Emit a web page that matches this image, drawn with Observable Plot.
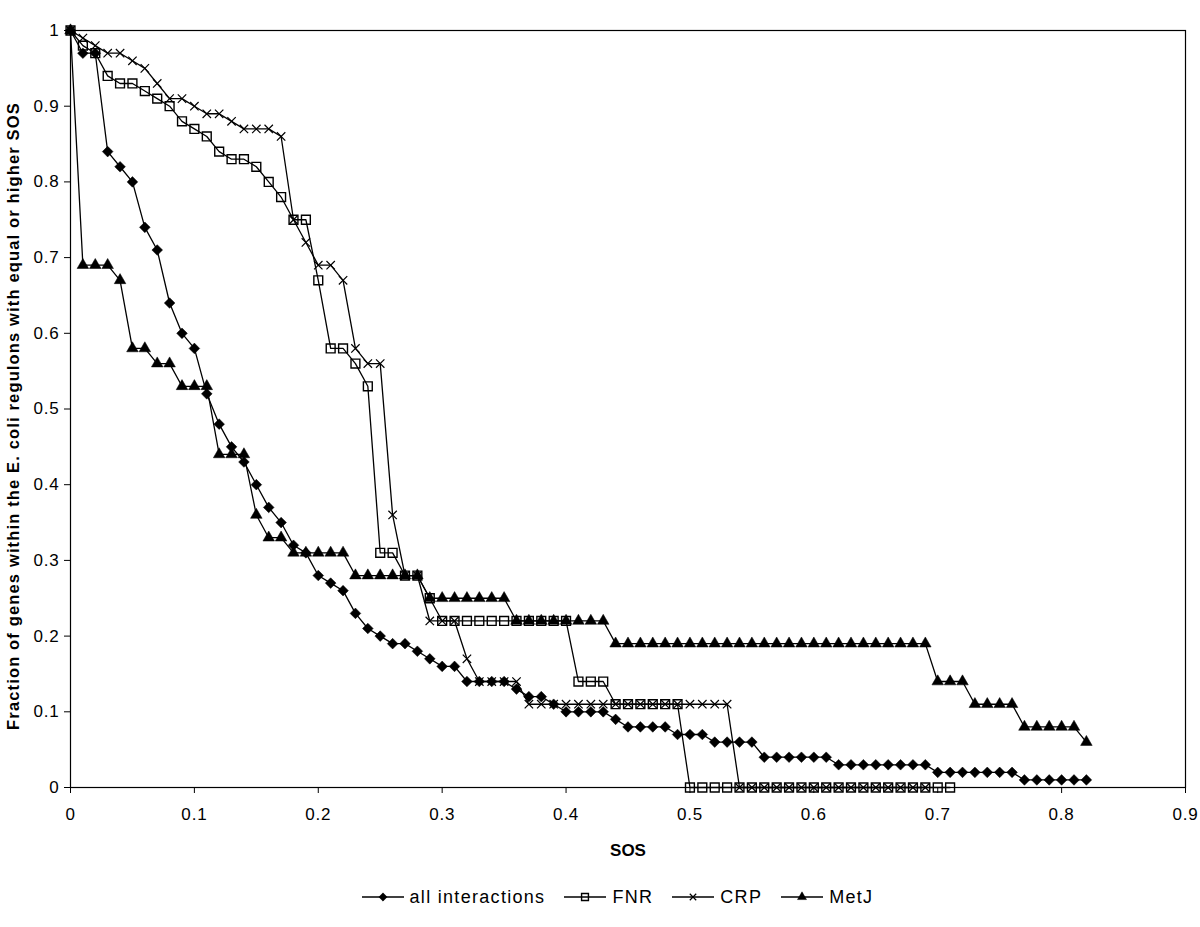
<!DOCTYPE html>
<html>
<head>
<meta charset="utf-8">
<script src="https://cdn.jsdelivr.net/npm/d3@7"></script>
<script src="https://cdn.jsdelivr.net/npm/@observablehq/plot@0.6"></script>
<style>
  html, body { margin: 0; padding: 0; background: white; }
  #chart { width: 1200px; }
  #legend { display: flex; justify-content: center; align-items: center; height: 54px;
            font-family: "Liberation Sans", Arial, sans-serif; font-size: 18px; letter-spacing: 1.3px; color: black;
            padding-left: 52px; box-sizing: border-box; width: 1200px; }
  .item { display: flex; align-items: center; margin-right: 18px; }
  .item svg { margin-right: 5px; }
</style>
</head>
<body>
<div id="chart"></div>
<div id="legend"></div>
<script>
const sos = [0,0.01,0.02,0.03,0.04,0.05,0.06,0.07,0.08,0.09,
  0.1,0.11,0.12,0.13,0.14,0.15,0.16,0.17,0.18,0.19,
  0.2,0.21,0.22,0.23,0.24,0.25,0.26,0.27,0.28,0.29,
  0.3,0.31,0.32,0.33,0.34,0.35,0.36,0.37,0.38,0.39,
  0.4,0.41,0.42,0.43,0.44,0.45,0.46,0.47,0.48,0.49,
  0.5,0.51,0.52,0.53,0.54,0.55,0.56,0.57,0.58,0.59,
  0.6,0.61,0.62,0.63,0.64,0.65,0.66,0.67,0.68,0.69,
  0.7,0.71,0.72,0.73,0.74,0.75,0.76,0.77,0.78,0.79,
  0.8,0.81,0.82];

const allInteractions = [1,0.97,0.97,0.84,0.82,0.80,0.74,0.71,0.64,0.60,
  0.58,0.52,0.48,0.45,0.43,0.40,0.37,0.35,0.32,0.31,
  0.28,0.27,0.26,0.23,0.21,0.20,0.19,0.19,0.18,0.17,
  0.16,0.16,0.14,0.14,0.14,0.14,0.13,0.12,0.12,0.11,
  0.10,0.10,0.10,0.10,0.09,0.08,0.08,0.08,0.08,0.07,
  0.07,0.07,0.06,0.06,0.06,0.06,0.04,0.04,0.04,0.04,
  0.04,0.04,0.03,0.03,0.03,0.03,0.03,0.03,0.03,0.03,
  0.02,0.02,0.02,0.02,0.02,0.02,0.02,0.01,0.01,0.01,
  0.01,0.01,0.01];

const fnr = [1,0.98,0.97,0.94,0.93,0.93,0.92,0.91,0.90,0.88,
  0.87,0.86,0.84,0.83,0.83,0.82,0.80,0.78,0.75,0.75,
  0.67,0.58,0.58,0.56,0.53,0.31,0.31,0.28,0.28,0.25,
  0.22,0.22,0.22,0.22,0.22,0.22,0.22,0.22,0.22,0.22,
  0.22,0.14,0.14,0.14,0.11,0.11,0.11,0.11,0.11,0.11,
  0,0,0,0,0,0,0,0,0,0,
  0,0,0,0,0,0,0,0,0,0,
  0,0];

const crp = [1,0.99,0.98,0.97,0.97,0.96,0.95,0.93,0.91,0.91,
  0.90,0.89,0.89,0.88,0.87,0.87,0.87,0.86,0.75,0.72,
  0.69,0.69,0.67,0.58,0.56,0.56,0.36,0.28,0.28,0.22,
  0.22,0.22,0.17,0.14,0.14,0.14,0.14,0.11,0.11,0.11,
  0.11,0.11,0.11,0.11,0.11,0.11,0.11,0.11,0.11,0.11,
  0.11,0.11,0.11,0.11,0,0,0,0,0,0,
  0,0,0,0,0,0,0,0,0,0];

const metJ = [1,0.69,0.69,0.69,0.67,0.58,0.58,0.56,0.56,0.53,
  0.53,0.53,0.44,0.44,0.44,0.36,0.33,0.33,0.31,0.31,
  0.31,0.31,0.31,0.28,0.28,0.28,0.28,0.28,0.28,0.25,
  0.25,0.25,0.25,0.25,0.25,0.25,0.22,0.22,0.22,0.22,
  0.22,0.22,0.22,0.22,0.19,0.19,0.19,0.19,0.19,0.19,
  0.19,0.19,0.19,0.19,0.19,0.19,0.19,0.19,0.19,0.19,
  0.19,0.19,0.19,0.19,0.19,0.19,0.19,0.19,0.19,0.19,
  0.14,0.14,0.14,0.11,0.11,0.11,0.11,0.08,0.08,0.08,
  0.08,0.08,0.06];

const seriesNames = ["all interactions", "FNR", "CRP", "MetJ"];
const xTicks = [0, 0.1, 0.2, 0.3, 0.4, 0.5, 0.6, 0.7, 0.8, 0.9];
const yTicks = [0, 0.1, 0.2, 0.3, 0.4, 0.5, 0.6, 0.7, 0.8, 0.9, 1];
const xLabel = "SOS";
const yLabel = "Fraction of genes within the E. coli regulons with equal or higher SOS";

const seriesValues = [allInteractions, fnr, crp, metJ];
const rows = seriesNames.map((name, k) =>
  seriesValues[k].map((v, i) => ({series: name, sos: sos[i], value: v})));

const styles = {
  "all interactions": {symbol: "diamond2", fill: "black", stroke: "black", r: 4.8, strokeWidth: 0.5},
  "FNR": {symbol: "square", fill: "none", stroke: "black", r: 5, strokeWidth: 1.4},
  "CRP": {symbol: "times", fill: "none", stroke: "black", r: 3.9, strokeWidth: 1.2},
  "MetJ": {symbol: "triangle", fill: "black", stroke: "black", r: 4.3, strokeWidth: 0.5}
};

const fmt = d => String(d);
const marks = [
  Plot.frame({stroke: "black", strokeWidth: 1.2}),
  Plot.axisX({ticks: xTicks, tickFormat: fmt, tickSize: 6, tickPadding: 14, label: null, fontSize: 17}),
  Plot.axisY({ticks: yTicks, tickFormat: fmt, tickSize: 6, tickPadding: 5, label: null, fontSize: 17}),
];
rows.forEach((data, k) => {
  marks.push(Plot.line(data, {x: "sos", y: "value", stroke: "black", strokeWidth: 1.3}));
});
rows.forEach((data, k) => {
  const s = styles[seriesNames[k]];
  marks.push(Plot.dot(data, {x: "sos", y: "value", symbol: () => s.symbol, r: s.r,
    fill: s.fill, stroke: s.stroke, strokeWidth: s.strokeWidth}));
});
marks.push(Plot.text([xLabel], {frameAnchor: "bottom", dy: 68, fontWeight: "bold", fontSize: 17}));
marks.push(Plot.text([yLabel], {frameAnchor: "left", textAnchor: "middle", dx: -57, dy: 7, rotate: -90, fontWeight: "bold", fontSize: 16.5}));

const chart = Plot.plot({
  width: 1200,
  height: 870,
  marginLeft: 70,
  marginRight: 15,
  marginTop: 30,
  marginBottom: 83,
  style: {fontFamily: "'Liberation Sans', Arial, sans-serif", fontSize: "17px", color: "black", background: "white", overflow: "visible"},
  x: {domain: [0, 0.9]},
  y: {domain: [0, 1]},
  symbol: {type: "identity"},
  marks
});
document.getElementById("chart").appendChild(chart);

// spacing tweaks to match the wider glyph rendering of the reference
d3.select(chart).selectAll("text").filter(function() { return this.textContent === yLabel; })
  .style("letter-spacing", "1.15px");
d3.select(chart).selectAll("g[aria-label='x-axis tick label'] text, g[aria-label='y-axis tick label'] text")
  .style("letter-spacing", "0.8px");

// Legend
const legend = document.getElementById("legend");
const symMap = {diamond2: d3.symbolDiamond2, square: d3.symbolSquare, times: d3.symbolTimes, triangle: d3.symbolTriangle};
seriesNames.forEach(name => {
  const s = styles[name];
  const item = document.createElement("div");
  item.className = "item";
  const ns = "http://www.w3.org/2000/svg";
  const svg = document.createElementNS(ns, "svg");
  svg.setAttribute("width", 44); svg.setAttribute("height", 16);
  const line = document.createElementNS(ns, "line");
  line.setAttribute("x1", 1); line.setAttribute("x2", 43); line.setAttribute("y1", 8); line.setAttribute("y2", 8);
  line.setAttribute("stroke", "black"); line.setAttribute("stroke-width", 1.3);
  svg.appendChild(line);
  const path = document.createElementNS(ns, "path");
  path.setAttribute("d", d3.symbol(symMap[s.symbol], Math.PI * s.r * s.r * 0.6)());
  path.setAttribute("transform", "translate(22,8)");
  path.setAttribute("fill", s.fill); path.setAttribute("stroke", s.stroke); path.setAttribute("stroke-width", s.strokeWidth);
  svg.appendChild(path);
  const label = document.createElement("span");
  label.textContent = name;
  item.appendChild(svg); item.appendChild(label);
  legend.appendChild(item);
});
</script>
</body>
</html>
